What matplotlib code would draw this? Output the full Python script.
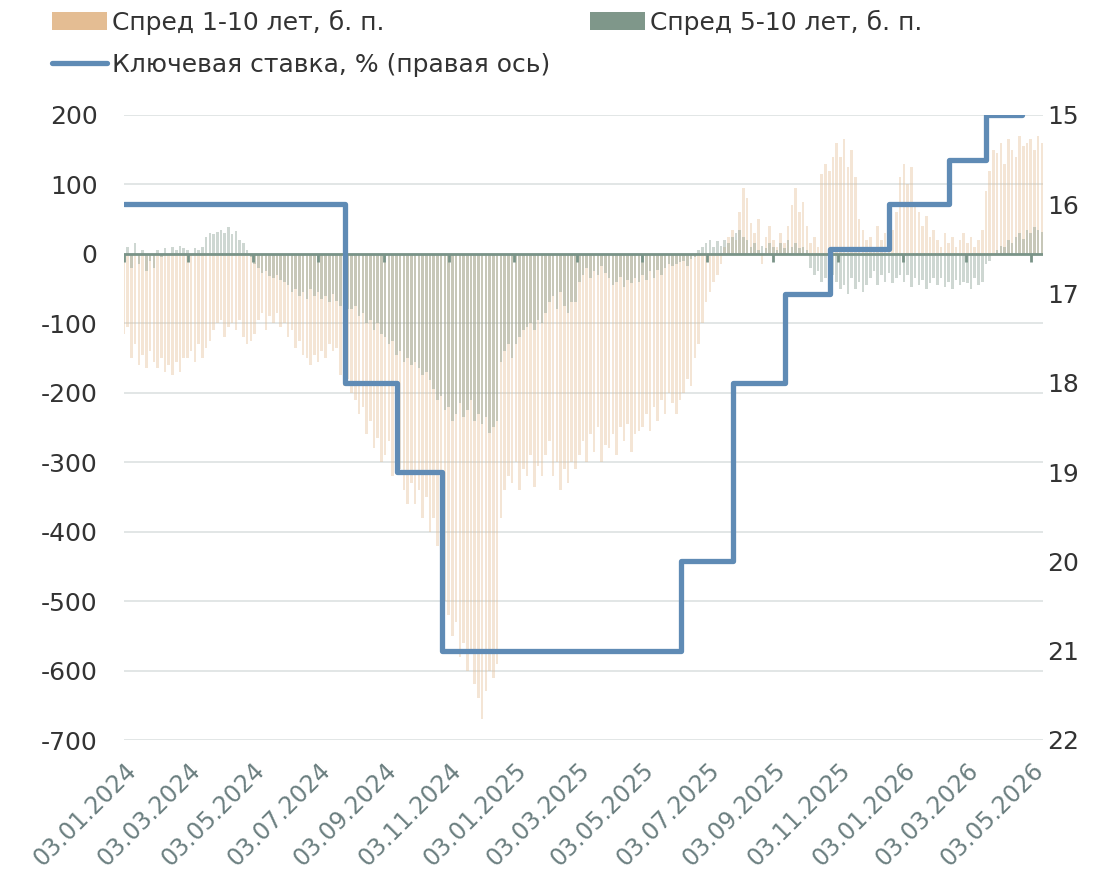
import matplotlib
matplotlib.use('Agg')
import matplotlib.pyplot as plt
import pandas as pd
from matplotlib.patches import Patch
from matplotlib.lines import Line2D

plt.rcParams['font.family'] = ['DejaVu Sans']
plt.rcParams['axes.unicode_minus'] = False

# ---------------- data ----------------
start_date = '2024-01-03'
step = '84h'  # twice-weekly observations

spread_1_10 = [
    # 2024
    -115, -105, -150, -130, -160, -145, -165, -140, -155,
    -165, -150, -170, -160, -175, -155, -170, -150,
    -150, -140, -155, -130, -150, -135, -125, -110, -100,
    -95, -120, -105, -100, -110, -95, -120, -130,
    -125, -115, -95, -85, -110, -90, -100, -85, -105,
    -100, -120, -110, -135, -125, -145, -150, -160, -145,
    -155, -140, -150, -130, -140, -135, -175, -190, -180,
    -200, -210, -230, -220, -260, -240, -280, -265, -300,
    -290, -270, -320, -300, -310, -340, -360, -330,
    -360, -340, -380, -350, -400, -380, -420, -460, -500,
    -520, -550, -530, -580, -560, -600, -570, -620, -640,
    -670, -630, -600, -610, -590, -380, -340, -320,
    # 2025
    -330, -300, -340, -310, -320, -290, -335, -305, -320,
    -290, -270, -320, -300, -340, -310, -330, -300,
    -310, -290, -270, -300, -260, -285, -250, -300, -275,
    -280, -260, -290, -250, -270, -245, -285, -260, -255,
    -250, -230, -255, -220, -240, -210, -230, -200, -215,
    -230, -210, -200, -180, -190, -150, -130, -100,
    -70, -55, -40, -30, -15, 10, 25, 35, 20,
    60, 95, 80, 45, 30, 50, -15, 25, 40,
    20, 10, 30, 15, 40, 70, 95, 60,
    75, 40, 15, 25, 10, 115, 130, 120, 140,
    160, 140, 165, 125, 150, 110, 50, 35, 20,
    25, 10, 40, 20, 30, 15, 35, 60, 110,
    # 2026
    130, 100, 125, 75, 60, 40, 55, 25, 35,
    20, 10, 30, 15, 25, 10, 20, 30,
    15, 25, 10, 20, 35, 90, 120, 150,
    145, 160, 130, 165, 150, 140, 170, 155, 160,
    165, 150, 170, 160,
]

spread_5_10 = [
    # 2024
    -5, 10, -20, 15, -15, 5, -25, -10, -20,
    5, -5, 8, 0, 10, 5, 12, 8,
    5, 0, 8, 5, 10, 25, 30, 28, 32,
    35, 30, 38, 28, 33, 20, 15, 5,
    -5, -15, -20, -28, -25, -32, -35, -30, -38,
    -40, -45, -55, -50, -60, -55, -65, -50, -60,
    -55, -65, -60, -70, -58, -68, -75, -70, -80,
    -80, -75, -90, -85, -100, -95, -110, -100, -115,
    -120, -130, -125, -145, -140, -155, -150, -160,
    -155, -165, -175, -170, -182, -195, -210, -205, -225,
    -220, -240, -230, -215, -235, -225, -210, -240, -230,
    -245, -235, -258, -250, -240, -155, -140, -130,
    # 2025
    -150, -130, -120, -110, -105, -100, -110, -95, -100,
    -85, -70, -60, -80, -55, -75, -85, -70,
    -70, -40, -30, -20, -35, -25, -30, -18, -28,
    -35, -45, -40, -33, -47, -38, -42, -35, -40,
    -30, -38, -25, -35, -23, -30, -20, -15, -18,
    -15, -12, -10, -17, -8, -5, 5, 10,
    15, 20, 10, 18, 12, 20, 15, 25, 30,
    34, 25, 20, 10, 15, 5, 12, 8, 15,
    10, 5, 15, 8, 20, 10, 15, 8,
    10, 5, -20, -30, -25, -40, -35, -43, -30,
    -40, -50, -45, -58, -35, -50, -40, -55, -45,
    -35, -25, -45, -30, -40, -28, -42, -35, -30,
    # 2026
    -40, -30, -48, -35, -45, -38, -50, -42, -35,
    -45, -35, -48, -40, -50, -38, -45, -40,
    -42, -50, -35, -45, -40, -15, -10, 0,
    5, 12, 10, 20, 15, 25, 30, 22, 35,
    30, 38, 35, 32,
]

rate_dates = ['2024-01-03', '2024-07-28', '2024-09-15', '2024-10-27',
              '2025-06-08', '2025-07-27', '2025-09-14', '2025-10-26',
              '2025-12-21', '2026-02-15', '2026-03-22', '2026-04-24']
key_rate = [16, 18, 19, 21, 20, 18, 17, 16.5, 16, 15.5, 15, 15]

x_tick_labels = ['03.01.2024', '03.03.2024', '03.05.2024', '03.07.2024',
                 '03.09.2024', '03.11.2024', '03.01.2025', '03.03.2025',
                 '03.05.2025', '03.07.2025', '03.09.2025', '03.11.2025',
                 '03.01.2026', '03.03.2026', '03.05.2026']
left_ticks = [-700, -600, -500, -400, -300, -200, -100, 0, 100, 200]
right_ticks = [15, 16, 17, 18, 19, 20, 21, 22]

label_1_10 = 'Спред 1-10 лет, б. п.'
label_5_10 = 'Спред 5-10 лет, б. п.'
label_rate = 'Ключевая ставка, % (правая ось)'

# ---------------- styling ----------------
TAN = '#e4bd93'
GREEN = '#7f978a'
BLUE = '#5f8bb5'
GRID = '#dde2e2'
AXIS = '#7a9488'
TXT = '#333333'
XTXT = '#6b7f80'

W, H = 1102, 871
fig = plt.figure(figsize=(W / 100, H / 100), dpi=100)
ax = fig.add_axes([124 / W, 131 / H, (1043 - 124) / W, (740 - 115) / H])

dates = pd.date_range(start_date, periods=len(spread_1_10), freq=step)
ax.bar(dates, spread_1_10, width=2.4, color=TAN, alpha=0.38, linewidth=0, zorder=2)
ax.bar(dates, spread_5_10, width=2.4, color=GREEN, alpha=0.38, linewidth=0, zorder=3)

ax.set_ylim(-700, 200)
ax.set_yticks(left_ticks)
ax.set_yticklabels([str(v) for v in left_ticks])
ax.yaxis.grid(True, color=GRID, lw=1.2, zorder=0)
ax.set_axisbelow(True)
ax.axhline(0, color=AXIS, lw=2, zorder=4)

tick_dates = pd.to_datetime(x_tick_labels, format='%d.%m.%Y')
ax.vlines(tick_dates, -11, 0, color=AXIS, lw=2, zorder=4)

ax.set_xlim(pd.Timestamp('2024-01-03'), pd.Timestamp('2026-05-14'))
ax.set_xticks(tick_dates)
ax.set_xticklabels(x_tick_labels, rotation=45, ha='right', va='top',
                   rotation_mode='anchor')
ax.tick_params(axis='x', length=0, pad=13, labelsize=17, labelcolor=XTXT)
ax.tick_params(axis='y', length=0, pad=19, labelsize=18, labelcolor=TXT)
for s in ax.spines.values():
    s.set_visible(False)

ax2 = ax.twinx()
ax2.plot(pd.to_datetime(rate_dates), key_rate, drawstyle='steps-post',
         color=BLUE, lw=3.8, solid_joinstyle='round', solid_capstyle='round',
         zorder=5)
ax2.set_ylim(22, 15)
ax2.set_yticks(right_ticks)
ax2.set_yticklabels([str(v) for v in right_ticks])
ax2.tick_params(axis='y', length=0, pad=3, labelsize=18, labelcolor=TXT)
for s in ax2.spines.values():
    s.set_visible(False)

handles = [Patch(facecolor=TAN, edgecolor='none', label=label_1_10),
           Line2D([0], [0], color=BLUE, lw=3.8, solid_capstyle='round', label=label_rate),
           Patch(facecolor=GREEN, edgecolor='none', label=label_5_10)]
leg = fig.legend(handles=handles, ncol=2, loc='upper left',
                 bbox_to_anchor=(52 / W, 1 - 10 / H), frameon=False,
                 fontsize=18, handlelength=2.2, handleheight=0.72,
                 handletextpad=0.2, columnspacing=1.6, labelspacing=0.7,
                 borderpad=0, borderaxespad=0)
for t in leg.get_texts():
    t.set_color(TXT)

fig.savefig('out.png', dpi=100)
